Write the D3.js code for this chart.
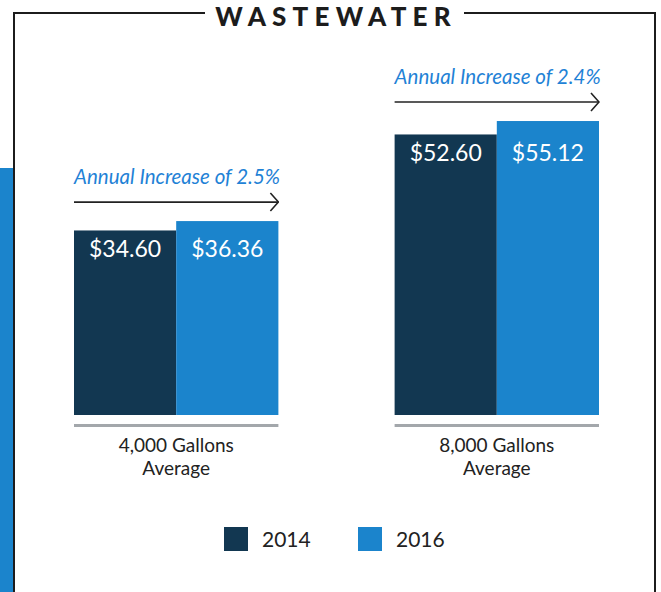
<!DOCTYPE html>
<html>
<head>
<meta charset="utf-8">
<script src="https://cdn.jsdelivr.net/npm/d3@7"></script>
<style>
  html, body { margin: 0; padding: 0; background: #fff; }
  svg { display: block; font-family: Lato, "Open Sans", sans-serif; }
</style>
</head>
<body>
<div id="chart"></div>
<script>
// Chart data
const categories = ['4,000 Gallons|Average', '8,000 Gallons|Average'];
const years = ['2014', '2016'];
const values2014 = [34.60, 52.60];
const values2016 = [36.36, 55.12];
const increaseLabels = ['Annual Increase of 2.5%', 'Annual Increase of 2.4%'];

const width = 661;
const height = 592;
const dark = '#123751';
const blue = '#1b84cc';

const svg = d3.select('#chart')
    .append('svg')
    .attr('width', width)
    .attr('height', height);

// Arrow marker
svg.append('defs').append('marker')
    .attr('id', 'arrow')
    .attr('viewBox', '0 0 10 20')
    .attr('refX', 9)
    .attr('refY', 10)
    .attr('markerWidth', 10)
    .attr('markerHeight', 20)
    .attr('markerUnits', 'userSpaceOnUse')
    .attr('orient', 'auto')
    .append('path')
    .attr('d', 'M1,1 L9,10 L1,19')
    .attr('fill', 'none')
    .attr('stroke', '#222')
    .attr('stroke-width', 1.6);

// Blue strip on the left edge
svg.append('rect')
    .attr('x', 0).attr('y', 168)
    .attr('width', 14).attr('height', height - 168)
    .attr('fill', blue);

// Frame with title gap
svg.append('path')
    .attr('d', 'M14,592 L14,13 L205,13 M464,13 L655,13 L655,592')
    .attr('fill', 'none')
    .attr('stroke', '#1c1c1c')
    .attr('stroke-width', 2);

// Title (kept just inside the top edge)
svg.append('text')
    .attr('x', 336)
    .attr('y', 26)
    .attr('text-anchor', 'middle')
    .attr('font-size', '26px')
    .attr('font-weight', 900)
    .attr('letter-spacing', '6.2px')
    .attr('fill', '#1c1c1c')
    .text('WASTEWATER');

// Scales
const x0 = d3.scaleBand()
    .domain(categories)
    .range([74, 599])
    .paddingInner(0.3625);

const x1 = d3.scaleBand()
    .domain(years)
    .range([0, x0.bandwidth()]);

const y = d3.scaleLinear()
    .domain([0, 60])
    .range([415, 95]);

const data = categories.map((c, i) => ({
    cat: c,
    vals: [
        { year: '2014', value: values2014[i] },
        { year: '2016', value: values2016[i] }
    ],
    note: increaseLabels[i]
}));

const groups = svg.selectAll('.group')
    .data(data)
    .join('g')
    .attr('class', 'group')
    .attr('transform', d => `translate(${x0(d.cat)},0)`);

// Bars
groups.selectAll('rect.bar')
    .data(d => d.vals)
    .join('rect')
    .attr('class', 'bar')
    .attr('x', d => x1(d.year))
    .attr('y', d => y(d.value))
    .attr('width', x1.bandwidth())
    .attr('height', d => y(0) - y(d.value))
    .attr('fill', d => d.year === '2014' ? dark : blue);

// Value labels, aligned on the 2014 bar top
groups.each(function(d) {
    const g = d3.select(this);
    const labelY = y(d.vals[0].value) + 27;
    d.vals.forEach(v => {
        g.append('text')
            .attr('x', x1(v.year) + x1.bandwidth() / 2)
            .attr('y', labelY)
            .attr('text-anchor', 'middle')
            .attr('font-size', '23px')
            .attr('fill', '#fff')
            .text('$' + v.value.toFixed(2));
    });

    // Increase annotation above the taller bar
    const top = y(d.vals[1].value);
    g.append('line')
        .attr('x1', 0)
        .attr('x2', x0.bandwidth())
        .attr('y1', top - 19)
        .attr('y2', top - 19)
        .attr('stroke', '#222')
        .attr('stroke-width', 1.6)
        .attr('marker-end', 'url(#arrow)');

    g.append('text')
        .attr('x', 0)
        .attr('y', top - 37)
        .attr('font-size', '20.5px')
        .attr('font-style', 'italic')
        .attr('fill', '#1f82d6')
        .text(d.note);

    // Baseline rule
    g.append('rect')
        .attr('x', 0)
        .attr('y', 424)
        .attr('width', x0.bandwidth())
        .attr('height', 3)
        .attr('fill', '#a3a7ab');

    // Category label
    const lines = d.cat.split('|');
    g.append('text')
        .attr('x', x0.bandwidth() / 2)
        .attr('y', 452)
        .attr('text-anchor', 'middle')
        .attr('font-size', '19px')
        .attr('fill', '#222')
        .selectAll('tspan')
        .data(lines)
        .join('tspan')
        .attr('x', x0.bandwidth() / 2)
        .attr('dy', (l, i) => i === 0 ? 0 : 23)
        .text(l => l);
});

// Legend
const legendX = [224, 358];
const legend = svg.selectAll('.legend')
    .data(years)
    .join('g')
    .attr('class', 'legend')
    .attr('transform', (d, i) => `translate(${legendX[i]},527)`);

legend.append('rect')
    .attr('width', 24)
    .attr('height', 24)
    .attr('fill', d => d === '2014' ? dark : blue);

legend.append('text')
    .attr('x', 38)
    .attr('y', 20)
    .attr('font-size', '21px')
    .attr('fill', '#222')
    .text(d => d);
</script>
</body>
</html>
